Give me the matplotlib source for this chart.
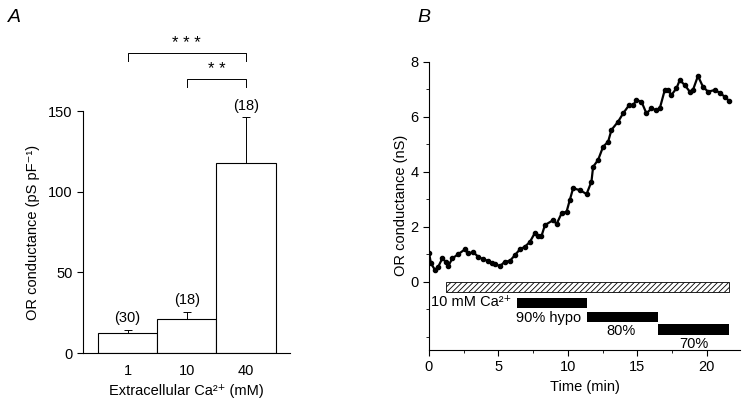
import numpy as np
import matplotlib.pyplot as plt
from matplotlib.ticker import MultipleLocator

plt.rcParams['font.family'] = ['Liberation Sans', 'DejaVu Sans']
plt.rcParams['hatch.color'] = '#555555'
plt.rcParams['hatch.linewidth'] = 0.6

# Panel A data
ca_labels = ["1", "10", "40"]
conductance = [12.4, 21, 117.5]
sem = [1.8, 4.5, 28.5]
n_cells = ["(30)", "(18)", "(18)"]

# Panel B data (time in min, conductance in nS)
time_min = [0.0, 0.14, 0.43, 0.67, 0.96, 1.2, 1.39, 1.68, 2.1, 2.59, 2.78, 3.19,
            3.55, 3.91, 4.27, 4.51, 4.75, 5.11, 5.47, 5.83, 6.19, 6.55, 6.9, 7.27,
            7.63, 7.86, 8.1, 8.35, 8.94, 9.19, 9.55, 9.91, 10.14, 10.38, 10.86,
            11.35, 11.7, 11.82, 12.18, 12.54, 12.9, 13.14, 13.62, 13.98, 14.41,
            14.7, 14.94, 15.3, 15.66, 16.02, 16.38, 16.62, 16.98, 17.22, 17.46,
            17.82, 18.06, 18.42, 18.78, 19.01, 19.37, 19.73, 20.1, 20.58, 20.94,
            21.29, 21.6]
gor = [1.05, 0.67, 0.43, 0.55, 0.85, 0.73, 0.57, 0.85, 1.0, 1.18, 1.03, 1.07,
       0.91, 0.81, 0.76, 0.69, 0.64, 0.57, 0.73, 0.76, 0.97, 1.18, 1.27, 1.45,
       1.78, 1.66, 1.66, 2.06, 2.24, 2.1, 2.49, 2.55, 2.97, 3.4, 3.33,
       3.19, 3.64, 4.18, 4.43, 4.91, 5.09, 5.52, 5.82, 6.12, 6.42,
       6.42, 6.6, 6.55, 6.12, 6.3, 6.24, 6.3, 6.97, 6.97, 6.79,
       7.03, 7.33, 7.15, 6.91, 6.97, 7.48, 7.09, 6.91, 6.97, 6.87,
       6.73, 6.58]

# solution bars: (start, end, label)
ca_bar = (1.22, 21.6, "10 mM Ca²⁺")
hypo_bars = [(6.36, 11.35, "90% hypo"), (11.35, 16.5, "80%"), (16.5, 21.6, "70%")]

fig = plt.figure(figsize=(7.5, 4.04), dpi=100)

# ---- Panel A ----
axA = fig.add_axes([0.1107, 0.1262, 0.276, 0.599])
x = np.arange(len(ca_labels))
axA.bar(x, conductance, width=1.0, color='white', edgecolor='black', linewidth=0.8)
axA.errorbar(x, conductance, yerr=[np.zeros(3), sem], fmt='none', ecolor='black',
             elinewidth=0.7, capsize=3, capthick=0.7)
for xi, c, s, n in zip(x, conductance, sem, n_cells):
    axA.text(xi, c + s + 3, n, ha='center', va='bottom', fontsize=10.5)
axA.set_xlim(-0.75, 2.74)
axA.set_ylim(0, 150)
axA.set_xticks(x)
axA.set_xticklabels(ca_labels)
axA.set_yticks([0, 50, 100, 150])
axA.tick_params(axis='x', length=0, labelsize=10.5, pad=8)
axA.tick_params(axis='y', length=4, width=0.8, labelsize=10.5)
axA.spines['top'].set_visible(False)
axA.spines['right'].set_visible(False)
axA.set_xlabel("Extracellular Ca²⁺ (mM)", fontsize=10.5, labelpad=4)
axA.set_ylabel("OR conductance (pS pF⁻¹)", fontsize=10.5, labelpad=6)

# significance brackets
for x0, x1, yb, stars in [(0, 2, 186, "* * *"), (1, 2, 170, "* *")]:
    axA.plot([x0, x0, x1, x1], [yb - 5, yb, yb, yb - 5], color='black', lw=0.7, clip_on=False)
    axA.text((x0 + x1) / 2, yb + 1, stars, ha='center', va='bottom', fontsize=12, clip_on=False)

fig.text(0.011, 0.945, "A", fontsize=14, style='italic')

# ---- Panel B ----
axB = fig.add_axes([0.572, 0.1337, 0.4147, 0.7136])
axB.plot(time_min, gor, color='black', lw=1.6, marker='o', markersize=3)
axB.set_xlim(0, 22.4)
axB.set_ylim(-2.48, 8)
axB.set_yticks([0, 2, 4, 6, 8])
axB.yaxis.set_minor_locator(MultipleLocator(1))
axB.set_xticks([0, 5, 10, 15, 20])
axB.xaxis.set_minor_locator(MultipleLocator(2.5))
axB.tick_params(which='major', length=4, width=0.8, labelsize=10.5)
axB.tick_params(which='minor', length=2, width=0.6)
axB.spines['top'].set_visible(False)
axB.spines['right'].set_visible(False)
axB.set_xlabel("Time (min)", fontsize=10.5)
axB.set_ylabel("OR conductance (nS)", fontsize=10.5, labelpad=2)

axB.barh(-0.18, ca_bar[1] - ca_bar[0], left=ca_bar[0], height=0.36,
         facecolor='white', edgecolor='black', linewidth=0.6, hatch='//////')
axB.text(0.15, -0.72, ca_bar[2], ha='left', va='center', fontsize=10.5)
bar_y = [-0.775, -1.285, -1.74]
label_pos = [(6.3, -1.33), (12.8, -1.8), (18.0, -2.27)]
for (s, e, lab), yb, (lx, ly) in zip(hypo_bars, bar_y, label_pos):
    axB.barh(yb, e - s, left=s, height=0.38, color='black')
    axB.text(lx, ly, lab, ha='left', va='center', fontsize=10.5)

fig.text(0.557, 0.945, "B", fontsize=14, style='italic')

fig.savefig("out.png", dpi=100)
